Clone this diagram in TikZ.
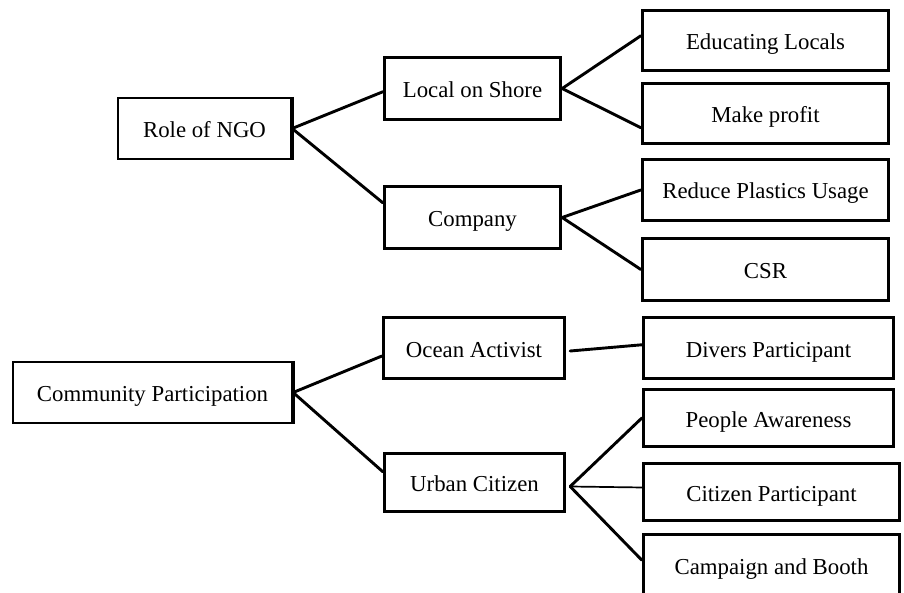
\documentclass[tikz,border=0pt]{standalone}
\usepackage{fontspec}
\setmainfont{Liberation Serif}
\usetikzlibrary{calc}
\tikzset{
  box/.style={draw=black, line width=3.3pt, fill=white, inner sep=0pt, text height=19pt, text depth=1pt, font=\fontsize{22.8}{26}\selectfont},
  rootbox/.style={box, line width=2.3pt},
  link/.style={line width=2.9pt, line cap=round},
  thinlink/.style={line width=1.7pt}
}
\begin{document}
\begin{tikzpicture}[x=1pt,y=-1pt]
\useasboundingbox[fill=white] (0,0) rectangle (904,593);
\clip (0,0) rectangle (904,593);
% nodes
\node[rootbox, minimum width=173pt, minimum height=61pt] (role) at (204.5,128.5) {Role of NGO};
\node[box, minimum width=176pt, minimum height=62pt] (local) at (472.5,88.5) {Local on Shore};
\node[box, minimum width=176pt, minimum height=62pt] (company) at (472.5,217.5) {Company};
\node[box, minimum width=246pt, minimum height=60pt] (edu) at (765.5,40.5) {Educating Locals};
\node[box, minimum width=246pt, minimum height=60pt] (profit) at (765.5,113.5) {Make profit};
\node[box, minimum width=246pt, minimum height=61pt] (reduce) at (765.5,190) {Reduce Plastics Usage};
\node[box, minimum width=246pt, minimum height=62pt] (csr) at (765.5,269.5) {CSR};
\node[rootbox, minimum width=279pt, minimum height=61pt] (comm) at (152.5,392.5) {Community Participation};
\node[box, minimum width=181pt, minimum height=61pt] (ocean) at (474,348) {Ocean Activist};
\node[box, minimum width=180pt, minimum height=58pt] (urban) at (474.5,482.5) {Urban Citizen};
\node[box, minimum width=250pt, minimum height=61pt] (divers) at (768.5,348) {Divers Participant};
\node[box, minimum width=250pt, minimum height=57pt] (people) at (768.5,418) {People Awareness};
\node[box, minimum width=256pt, minimum height=57pt] (citizen) at (771.5,492) {Citizen Participant};
\node[box, minimum width=256pt, minimum height=61pt] (campaign) at (771.5,565) {Campaign and Booth};
% thicker right edges of the root boxes
\draw[line width=3.3pt] (role.north east) -- (role.south east);
\draw[line width=3.3pt] (comm.north east) -- (comm.south east);
% connectors
\draw[link] (role.east) -- ($(local.west)!0.1!(local.south west)$);
\draw[link] (role.east) -- ($(company.west)!0.45!(company.north west)$);
\draw[link] (local.east) -- ($(edu.west)!0.15!(edu.north west)$);
\draw[link] (local.east) -- ($(profit.west)!0.45!(profit.south west)$);
\draw[link] (company.east) -- (reduce.west);
\draw[link] (company.east) -- (csr.west);
\draw[link] (comm.east) -- ($(ocean.west)!0.25!(ocean.south west)$);
\draw[link] (comm.east) -- ($(urban.west)!0.35!(urban.north west)$);
\coordinate (oc) at ($(ocean.east)+(4,3)$);
\draw[link] (oc) -- ($(divers.west)!0.1!(divers.north west)$);
\coordinate (uc) at ($(urban.east)+(4,4)$);
\draw[link] (uc) -- (people.west);
\draw[thinlink] (uc) -- ($(citizen.west)!0.15!(citizen.north west)$);
\draw[link] (uc) -- ($(campaign.west)!0.15!(campaign.north west)$);
\end{tikzpicture}
\end{document}
